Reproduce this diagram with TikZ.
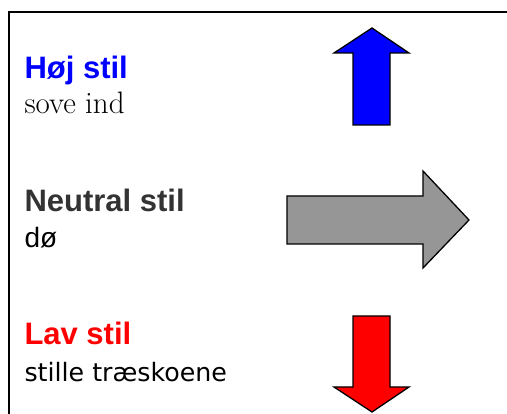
\documentclass[tikz,border=0pt]{standalone}
\usepackage{fontspec}
\newfontfamily\arialfont{Liberation Sans}
\newfontfamily\comicfont{DejaVu Sans}
\definecolor{hojblue}{RGB}{0,0,255}
\definecolor{lavred}{RGB}{255,0,0}
\definecolor{neutralgray}{RGB}{150,150,150}
\definecolor{headgray}{RGB}{51,51,51}
\begin{document}
\begin{tikzpicture}[x=1pt,y=-1pt,
  label/.style={anchor=base west,inner sep=0pt,outer sep=0pt},
  heading/.style={label,font=\arialfont\bfseries\fontsize{31}{36}\selectfont},
  blockarrow/.style={draw=black,line width=1.3pt,line join=miter}]
\useasboundingbox (0,0) rectangle (507,414);
\begin{scope}
\clip (0,0) rectangle (507,414);
% open frame: only its top and left edges fall inside the page
\coordinate (frameTL) at (9,12);
\coordinate (frameTR) at (520,12);
\coordinate (frameBL) at (9,430);
\draw[line width=2.2pt] (frameBL) -- (frameTL) -- (frameTR);

% high style: arrow pointing up
\fill[hojblue] (372,28) -- (409,53) -- (390,53) -- (390,125) -- (353,125) -- (353,53) -- (334,53) -- cycle;
\draw[blockarrow] (372,28) -- (409,53) -- (390,53) -- (390,125) -- (353,125) -- (353,53) -- (334,53) -- cycle;

% neutral style: arrow pointing right
\fill[neutralgray] (469,220) -- (423,268) -- (423,244) -- (287,244) -- (287,196) -- (423,196) -- (423,171) -- cycle;
\draw[blockarrow] (469,220) -- (423,268) -- (423,244) -- (287,244) -- (287,196) -- (423,196) -- (423,171) -- cycle;

% low style: arrow pointing down
\fill[lavred] (372,412) -- (409,387) -- (390,387) -- (390,316) -- (353,316) -- (353,387) -- (334,387) -- cycle;
\draw[blockarrow] (372,412) -- (409,387) -- (390,387) -- (390,316) -- (353,316) -- (353,387) -- (334,387) -- cycle;
\end{scope}

% labels
\node[heading,text=hojblue] (hoj) at (24.5,78.3) {Høj stil};
\node[label,font=\fontsize{31}{36}\selectfont] (hojex) at (24.5,113.3) {sove ind};

\node[heading,text=headgray] (neutral) at (24.5,211.7) {Neutral stil};
\node[label,font=\arialfont\fontsize{28}{33}\selectfont] (neutralex) at (24.5,248) {dø};

\node[heading,text=lavred] (lav) at (24.5,344.3) {Lav stil};
\node[label,font=\comicfont\fontsize{25.3}{30}\selectfont] (lavex) at (24.5,381.7) {stille træskoene};
\end{tikzpicture}
\end{document}
